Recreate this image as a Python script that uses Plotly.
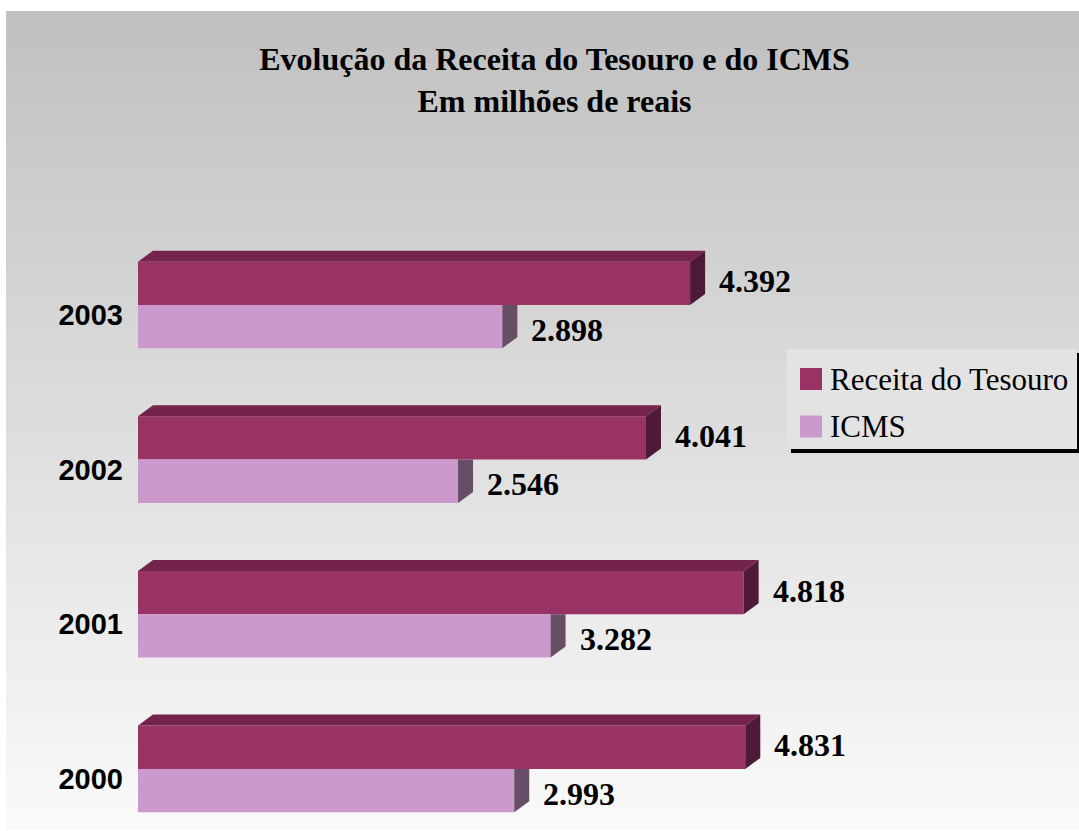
import plotly.graph_objects as go

# ---- data ----
years = ["2000", "2001", "2002", "2003"]
receita = [4831, 4818, 4041, 4392]
icms = [2993, 3282, 2546, 2898]
series_names = ["Receita do Tesouro", "ICMS"]
title_lines = ["Evolução da Receita do Tesouro e do ICMS", "Em milhões de reais"]

# ---- style / layout constants ----
OFF = 0                  # page body margin (reset to 0 below)
W, H = 1079, 831
L, T = 138, 189          # plot area left / top inside the figure (px)
PW, PH = 935, 634        # plot area size (px)
XMAX = 7438
YMIN, YMAX = -0.35, 3.75
BAR_W = 0.28
DX = 15 * XMAX / PW      # 3D depth (x) in data units
DY = 11 * (YMAX - YMIN) / PH

C_REC = "#993366"
C_REC_TOP = "#74244c"
C_REC_SIDE = "#4f1a37"
C_ICMS = "#cc99cc"
C_ICMS_SIDE = "#654e66"

SERIF = "Liberation Serif, Times New Roman, serif"
SANS = "Liberation Sans, Arial, sans-serif"


def px(x):
    """screen x (px) -> paper x"""
    return (x - OFF - L) / PW


def py(y):
    """screen y (px) -> paper y"""
    return (T + PH - (y - OFF)) / PH


def fmt(v):
    return f"{v:,}".replace(",", ".")


idx = list(range(len(years)))

fig = go.Figure()
fig.add_bar(y=[i + BAR_W / 2 for i in idx], x=receita, orientation="h", width=BAR_W,
            marker=dict(color=C_REC, line_width=0), name=series_names[0], showlegend=False)
fig.add_bar(y=[i - BAR_W / 2 for i in idx], x=icms, orientation="h", width=BAR_W,
            marker=dict(color=C_ICMS, line_width=0), name=series_names[1], showlegend=False)

shapes = []
# background gradient (light grey getting lighter to the bottom)
y0, y1 = 11, 830
n = 82
for k in range(n):
    a = y0 + (y1 - y0) * k / n
    b = y0 + (y1 - y0) * (k + 1) / n + 1
    t = (k + 0.5) / n
    g = round(192 + (250 - 192) * t)
    shapes.append(dict(type="rect", xref="paper", yref="paper", x0=px(6), x1=px(1085),
                       y0=py(a), y1=py(min(b, y1)), fillcolor=f"rgb({g},{g},{g})",
                       line_width=0, layer="below"))

annotations = []
for i in idx:
    v = receita[i]
    yt, yb = i + BAR_W, i
    shapes.append(dict(type="path", xref="x", yref="y", layer="above", line_width=0,
                       fillcolor=C_REC_TOP,
                       path=f"M 0,{yt} L {DX},{yt + DY} L {v + DX},{yt + DY} L {v},{yt} Z"))
    shapes.append(dict(type="path", xref="x", yref="y", layer="above", line_width=0,
                       fillcolor=C_REC_SIDE,
                       path=f"M {v},{yt} L {v + DX},{yt + DY} L {v + DX},{yb + DY} L {v},{yb} Z"))
    w = icms[i]
    shapes.append(dict(type="path", xref="x", yref="y", layer="above", line_width=0,
                       fillcolor=C_ICMS_SIDE,
                       path=f"M {w},{i} L {w + DX},{i} L {w + DX},{i - BAR_W + DY} L {w},{i - BAR_W} Z"))
    annotations.append(dict(x=v, y=i + BAR_W / 2, xref="x", yref="y", text=fmt(v),
                            showarrow=False, xanchor="left", xshift=27, yshift=2,
                            font=dict(family=SERIF, size=32, color="black", weight="bold")))
    annotations.append(dict(x=w, y=i - BAR_W / 2, xref="x", yref="y", text=fmt(w),
                            showarrow=False, xanchor="left", xshift=27, yshift=-3,
                            font=dict(family=SERIF, size=32, color="black", weight="bold")))

# legend box (manual, with shadow)
shapes.append(dict(type="rect", xref="paper", yref="paper", x0=px(791), x1=px(1081),
                   y0=py(453), y1=py(353), fillcolor="black", line_width=0, layer="above"))
shapes.append(dict(type="rect", xref="paper", yref="paper", x0=px(787), x1=px(1077),
                   y0=py(449), y1=py(349), fillcolor="#e3e3e3", line_width=0, layer="above"))
for k, (nm, col) in enumerate(zip(series_names, [C_REC, C_ICMS])):
    cy = 379 + 47.5 * k
    shapes.append(dict(type="rect", xref="paper", yref="paper", x0=px(800), x1=px(822),
                       y0=py(cy + 11), y1=py(cy - 11), fillcolor=col, line_width=0,
                       layer="above"))
    annotations.append(dict(x=px(828), y=py(cy), xref="paper", yref="paper", text=nm,
                            showarrow=False, xanchor="left", yanchor="middle",
                            font=dict(family=SERIF, size=31, color="black")))

fig.update_layout(
    width=W, height=H,
    margin=dict(l=L, r=W - L - PW, t=T, b=H - T - PH, pad=0),
    paper_bgcolor="white",
    plot_bgcolor="rgba(0,0,0,0)",
    barmode="overlay",
    showlegend=False,
    title=dict(text="<br>".join(title_lines), x=554.5 / W, xanchor="center",
               xref="container", yref="container", y=1 - 70 / H, yanchor="top",
               font=dict(family=SERIF, size=32, color="black", weight="bold")),
    xaxis=dict(range=[0, XMAX], visible=False, fixedrange=True),
    yaxis=dict(range=[YMIN, YMAX], tickvals=[i - 0.065 for i in idx], ticktext=years,
               showgrid=False, zeroline=False, showline=False, ticks="",
               ticklabelstandoff=14,
               tickfont=dict(family=SANS, size=29, color="black", weight="bold")),
    shapes=shapes,
    annotations=annotations,
)

fig.write_html(
    "out.html",
    config={"displayModeBar": False},
    post_script="document.body.style.margin='0';document.documentElement.style.overflow='hidden';",
)
